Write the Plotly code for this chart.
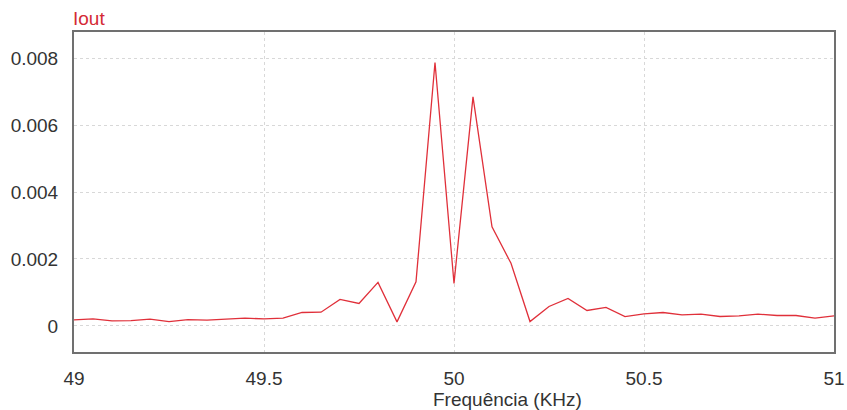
import plotly.graph_objects as go

freq_khz = [49.00, 49.05, 49.10, 49.15, 49.20, 49.25, 49.30, 49.35, 49.40, 49.45,
            49.50, 49.55, 49.60, 49.65, 49.70, 49.75, 49.80, 49.85, 49.90, 49.95,
            50.00, 50.05, 50.10, 50.15, 50.20, 50.25, 50.30, 50.35, 50.40, 50.45,
            50.50, 50.55, 50.60, 50.65, 50.70, 50.75, 50.80, 50.85, 50.90, 50.95, 51.00]
iout = [0.00018, 0.00021, 0.00015, 0.00016, 0.00020, 0.00013, 0.00019, 0.00017, 0.00020, 0.00023,
        0.00021, 0.00023, 0.00040, 0.00041, 0.00079, 0.00067, 0.00130, 0.00012, 0.00132, 0.00787,
        0.00127, 0.00684, 0.00296, 0.00187, 0.00013, 0.00058, 0.00082, 0.00046, 0.00055, 0.00028,
        0.00036, 0.00040, 0.00033, 0.00035, 0.00028, 0.00030, 0.00035, 0.00031, 0.00031, 0.00023, 0.00030]

x_ticks = [49, 49.5, 50, 50.5, 51]
x_tick_text = ["49", "49.5", "50", "50.5", "51"]
y_ticks = [0, 0.002, 0.004, 0.006, 0.008]
y_tick_text = ["0", "0.002", "0.004", "0.006", "0.008"]

fig = go.Figure()
fig.add_trace(go.Scatter(x=freq_khz, y=iout, mode="lines",
                         line=dict(color="#e0303a", width=1.3),
                         showlegend=False, hoverinfo="skip"))

axis_font = dict(family="Liberation Sans, Arial, sans-serif", size=19, color="#333333")

fig.update_layout(
    width=847, height=410,
    margin=dict(l=74, r=13, t=32, b=58, autoexpand=False),
    paper_bgcolor="white", plot_bgcolor="white",
    font=dict(family="Liberation Sans, Arial, sans-serif"),
    xaxis=dict(range=[49, 51], tickvals=x_ticks, ticktext=x_tick_text,
               showgrid=True, gridcolor="#d8d8d8", griddash="dot", gridwidth=1,
               zeroline=False, showline=True, linecolor="#707070", linewidth=2,
               mirror=True, ticks="", tickfont=axis_font, ticklabelstandoff=8,
               automargin=False),
    yaxis=dict(range=[-0.00078, 0.00878], tickvals=y_ticks, ticktext=y_tick_text,
               showgrid=True, gridcolor="#d8d8d8", griddash="dot", gridwidth=1,
               zeroline=False, showline=True, linecolor="#707070", linewidth=2,
               mirror=True, ticks="", tickfont=axis_font, ticklabelstandoff=10,
               automargin=False),
    annotations=[
        dict(text="Iout", xref="paper", yref="paper", x=0, y=1, xanchor="left",
             yanchor="bottom", xshift=-3, yshift=1, showarrow=False,
             font=dict(family="Liberation Sans, Arial, sans-serif", size=19, color="#d42a35")),
        dict(text="Frequência (KHz)", xref="paper", yref="paper", x=0.571, y=0,
             xanchor="center", yanchor="top", yshift=-35, showarrow=False,
             font=dict(family="Liberation Sans, Arial, sans-serif", size=19, color="#333333")),
    ],
)

fig.write_html("out.html", config={"displayModeBar": False},
               post_script="document.body.style.margin='0';document.body.style.overflow='hidden';")
